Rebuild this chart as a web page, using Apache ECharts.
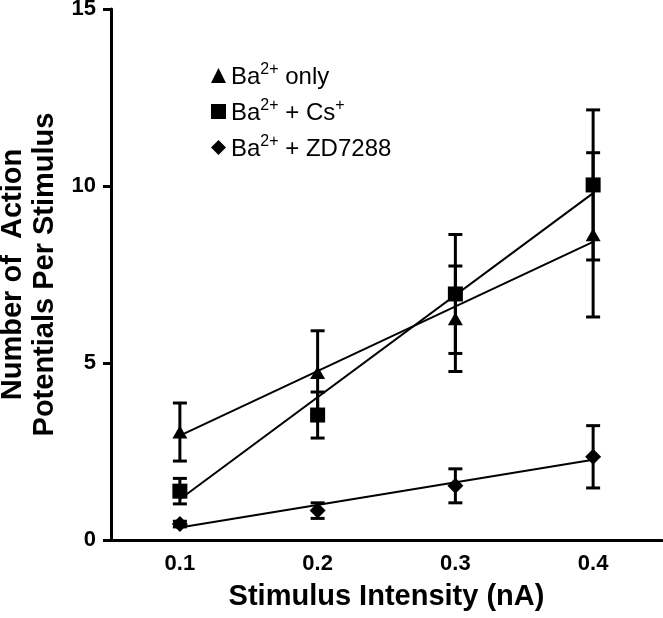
<!DOCTYPE html>
<html>
<head>
<meta charset="utf-8">
<script src="https://cdn.jsdelivr.net/npm/echarts@6/dist/echarts.min.js"></script>
<style>
html,body{margin:0;padding:0;background:#fff;}
#c{width:663px;height:618px;}
</style>
</head>
<body>
<div id="c"></div>
<script>
// ---- data ----
const categories = ['0.1', '0.2', '0.3', '0.4'];
const yTicks = [0, 5, 10, 15];

const seriesNames = ['Ba2+ only', 'Ba2+ + Cs+', 'Ba2+ + ZD7288'];

const baOnlyMean = [3.05, 4.73, 6.25, 8.62];
const baOnlyErr  = [0.82, 1.18, 1.49, 2.32];
const baCsMean   = [1.38, 3.53, 6.95, 10.03];
const baCsErr    = [0.36, 0.65, 1.68, 2.12];
const baZdMean   = [0.45, 0.83, 1.53, 2.35];
const baZdErr    = [0.08, 0.22, 0.48, 0.88];

// fitted (regression) line end values at 0.1 and 0.4
const fitEnds    = ['0.1', '0.4'];
const baOnlyFit  = [2.95, 8.42];
const baCsFit    = [1.15, 9.80];
const baZdFit    = [0.35, 2.27];

// ---- build chart ----
const chart = echarts.init(document.getElementById('c'), null, {renderer: 'canvas'});
const FONT = 'Liberation Sans, Arial, sans-serif';

function errData(mean, err) {
  return mean.map((m, i) => [i, m - err[i], m + err[i]]);
}
function errorSeries(name, mean, err) {
  return {
    type: 'custom',
    name: name + ' err',
    data: errData(mean, err),
    z: 2,
    silent: true,
    renderItem: function (params, api) {
      const x = api.value(0), lo = api.value(1), hi = api.value(2);
      const top = api.coord([x, hi]);
      const bot = api.coord([x, lo]);
      const hw = 7;
      const st = {stroke: '#000', lineWidth: 3};
      return {
        type: 'group',
        children: [
          {type: 'line', shape: {x1: top[0], y1: top[1], x2: bot[0], y2: bot[1]}, style: st},
          {type: 'line', shape: {x1: top[0] - hw, y1: top[1], x2: top[0] + hw, y2: top[1]}, style: st},
          {type: 'line', shape: {x1: bot[0] - hw, y1: bot[1], x2: bot[0] + hw, y2: bot[1]}, style: st}
        ]
      };
    }
  };
}
function fitSeries(name, fit) {
  return {
    type: 'line',
    name: name + ' fit',
    data: fitEnds.map((c, i) => [c, fit[i]]),
    symbol: 'none',
    z: 1,
    silent: true,
    lineStyle: {color: '#000', width: 2}
  };
}
function pointSeries(name, mean, symbol, size) {
  return {
    type: 'scatter',
    name: name,
    data: mean.map((v, i) => [categories[i], v]),
    symbol: symbol,
    symbolSize: size,
    z: 3,
    itemStyle: {color: '#000', opacity: 1}
  };
}

const legendLabels = {
  'Ba2+ only': '{b|Ba}{s|2+}{b| only}',
  'Ba2+ + Cs+': '{b|Ba}{s|2+}{b| + Cs}{s|+}',
  'Ba2+ + ZD7288': '{b|Ba}{s|2+}{b| + ZD7288}'
};

const option = {
  backgroundColor: '#fff',
  animation: false,
  grid: {left: 111, right: 1, top: 9, bottom: 78, containLabel: false, outerBoundsMode: 'none'},
  legend: {
    data: seriesNames,
    orient: 'vertical',
    left: 206,
    top: 57,
    itemGap: 9,
    itemWidth: 15,
    itemHeight: 15,
    selectedMode: false,
    formatter: function (n) { return legendLabels[n]; },
    textStyle: {
      color: '#000',
      fontFamily: FONT,
      rich: {
        b: {fontSize: 24, fontFamily: FONT, color: '#000', lineHeight: 27, verticalAlign: 'bottom'},
        s: {fontSize: 16, fontFamily: FONT, color: '#000', lineHeight: 27, verticalAlign: 'top'}
      }
    }
  },
  xAxis: {
    type: 'category',
    data: categories,
    boundaryGap: true,
    name: 'Stimulus Intensity (nA)',
    nameLocation: 'middle',
    nameGap: 42,
    nameTextStyle: {fontSize: 29, fontWeight: 'bold', fontFamily: FONT, color: '#000'},
    axisLine: {lineStyle: {color: '#000', width: 3}},
    axisTick: {alignWithLabel: true, length: 6, lineStyle: {color: '#000', width: 3}},
    axisLabel: {fontSize: 22, fontWeight: 'bold', fontFamily: FONT, color: '#000', margin: 13},
    splitLine: {show: false}
  },
  yAxis: {
    type: 'value',
    min: yTicks[0],
    max: yTicks[yTicks.length - 1],
    interval: yTicks[1] - yTicks[0],
    name: 'Number of  Action\nPotentials Per Stimulus',
    nameLocation: 'middle',
    nameGap: 46,
    nameRotate: 90,
    nameTextStyle: {fontSize: 29, fontWeight: 'bold', fontFamily: FONT, color: '#000', lineHeight: 32, align: 'center'},
    axisLine: {show: true, lineStyle: {color: '#000', width: 3}},
    axisTick: {show: true, length: 8, lineStyle: {color: '#000', width: 3}},
    axisLabel: {fontSize: 22, fontWeight: 'bold', fontFamily: FONT, color: '#000', margin: 15},
    splitLine: {show: false}
  },
  series: [
    fitSeries(seriesNames[0], baOnlyFit),
    fitSeries(seriesNames[1], baCsFit),
    fitSeries(seriesNames[2], baZdFit),
    errorSeries(seriesNames[0], baOnlyMean, baOnlyErr),
    errorSeries(seriesNames[1], baCsMean, baCsErr),
    errorSeries(seriesNames[2], baZdMean, baZdErr),
    pointSeries(seriesNames[0], baOnlyMean, 'triangle', [15, 13]),
    pointSeries(seriesNames[1], baCsMean, 'rect', 15),
    pointSeries(seriesNames[2], baZdMean, 'diamond', [16, 16])
  ]
};
chart.setOption(option);
</script>
</body>
</html>
